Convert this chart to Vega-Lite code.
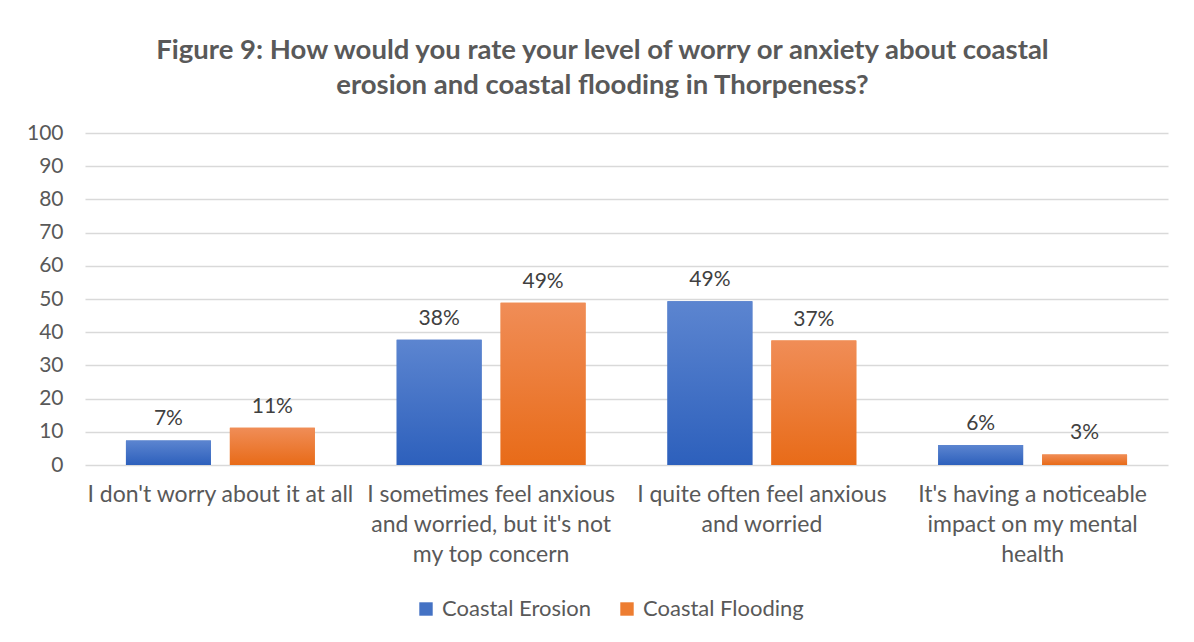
{
  "$schema": "https://vega.github.io/schema/vega-lite/v6.json",
  "autosize": "none",
  "width": 1083,
  "height": 332,
  "padding": {"left": 85, "top": 133, "right": 26, "bottom": 177},
  "background": "white",
  "title": {
    "text": ["Figure 9: How would you rate your level of worry or anxiety about coastal", "erosion and coastal flooding in Thorpeness?"],
    "font": "Lato",
    "fontSize": 27.5,
    "fontWeight": "bold",
    "color": "#595959",
    "anchor": "middle",
    "lineHeight": 35,
    "offset": 23,
    "dx": -24
  },
  "config": {
    "view": {"stroke": null},
    "font": "Lato"
  },
  "data": {
    "values": [
      {"category": "I don't worry about it at all", "series": "Coastal Erosion", "value": 7.4, "label": "7%"},
      {"category": "I don't worry about it at all", "series": "Coastal Flooding", "value": 11.2, "label": "11%"},
      {"category": "I sometimes feel anxious and worried, but it's not my top concern", "series": "Coastal Erosion", "value": 37.7, "label": "38%"},
      {"category": "I sometimes feel anxious and worried, but it's not my top concern", "series": "Coastal Flooding", "value": 48.9, "label": "49%"},
      {"category": "I quite often feel anxious and worried", "series": "Coastal Erosion", "value": 49.3, "label": "49%"},
      {"category": "I quite often feel anxious and worried", "series": "Coastal Flooding", "value": 37.5, "label": "37%"},
      {"category": "It's having a noticeable impact on my mental health", "series": "Coastal Erosion", "value": 6.0, "label": "6%"},
      {"category": "It's having a noticeable impact on my mental health", "series": "Coastal Flooding", "value": 3.2, "label": "3%"}
    ]
  },
  "encoding": {
    "x": {
      "field": "category",
      "type": "nominal",
      "sort": null,
      "scale": {"paddingInner": 0, "paddingOuter": 0},
      "axis": {
        "title": null,
        "labelAngle": 0,
        "labelFontSize": 23,
        "labelColor": "#595959",
        "labelLineHeight": 30,
        "labelPadding": 18,
        "labelLimit": 400,
        "labelBaseline": "top",
        "domain": false,
        "ticks": false,
        "labelExpr": "split(replace(replace(replace(replace(datum.value, 'anxious and', 'anxious|and'), 'not my', 'not|my'), 'noticeable impact', 'noticeable|impact'), 'mental health', 'mental|health'), '|')"
      }
    },
    "xOffset": {
      "field": "series",
      "type": "nominal",
      "scale": {"paddingInner": 0.1827, "paddingOuter": 0.394}
    },
    "y": {
      "field": "value",
      "type": "quantitative",
      "scale": {"domain": [0, 100], "nice": false},
      "axis": {
        "title": null,
        "values": [0, 10, 20, 30, 40, 50, 60, 70, 80, 90, 100],
        "labelFontSize": 21,
        "labelColor": "#595959",
        "labelPadding": 22,
        "domain": false,
        "ticks": false,
        "gridColor": "#d9d9d9",
        "gridWidth": 1.5
      }
    }
  },
  "layer": [
    {
      "mark": {"type": "bar"},
      "encoding": {
        "color": {
          "field": "series",
          "type": "nominal",
          "scale": {"domain": ["Coastal Erosion", "Coastal Flooding"], "range": ["#4472c4", "#ed7d31"]},
          "legend": {
            "title": null,
            "orient": "none",
            "direction": "horizontal",
            "legendX": 330,
            "legendY": 465,
            "symbolType": "square",
            "symbolSize": 180,
            "symbolOpacity": 1,
            "labelFontSize": 22,
            "labelLimit": 300,
            "labelColor": "#595959",
            "columnPadding": 24,
            "labelOffset": 5
          }
        }
      }
    },
    {
      "transform": [{"filter": "datum.series == 'Coastal Erosion'"}],
      "mark": {
        "type": "bar",
        "color": {
          "x1": 0, "y1": 0, "x2": 0, "y2": 1,
          "gradient": "linear",
          "stops": [{"offset": 0, "color": "#5c85d0"}, {"offset": 1, "color": "#2d60bc"}]
        }
      }
    },
    {
      "transform": [{"filter": "datum.series == 'Coastal Flooding'"}],
      "mark": {
        "type": "bar",
        "color": {
          "x1": 0, "y1": 0, "x2": 0, "y2": 1,
          "gradient": "linear",
          "stops": [{"offset": 0, "color": "#f08d57"}, {"offset": 1, "color": "#e86b18"}]
        }
      }
    },
    {
      "mark": {"type": "text", "baseline": "bottom", "dy": -11, "fontSize": 21, "color": "#404040"},
      "encoding": {"text": {"field": "label"}}
    }
  ]
}
